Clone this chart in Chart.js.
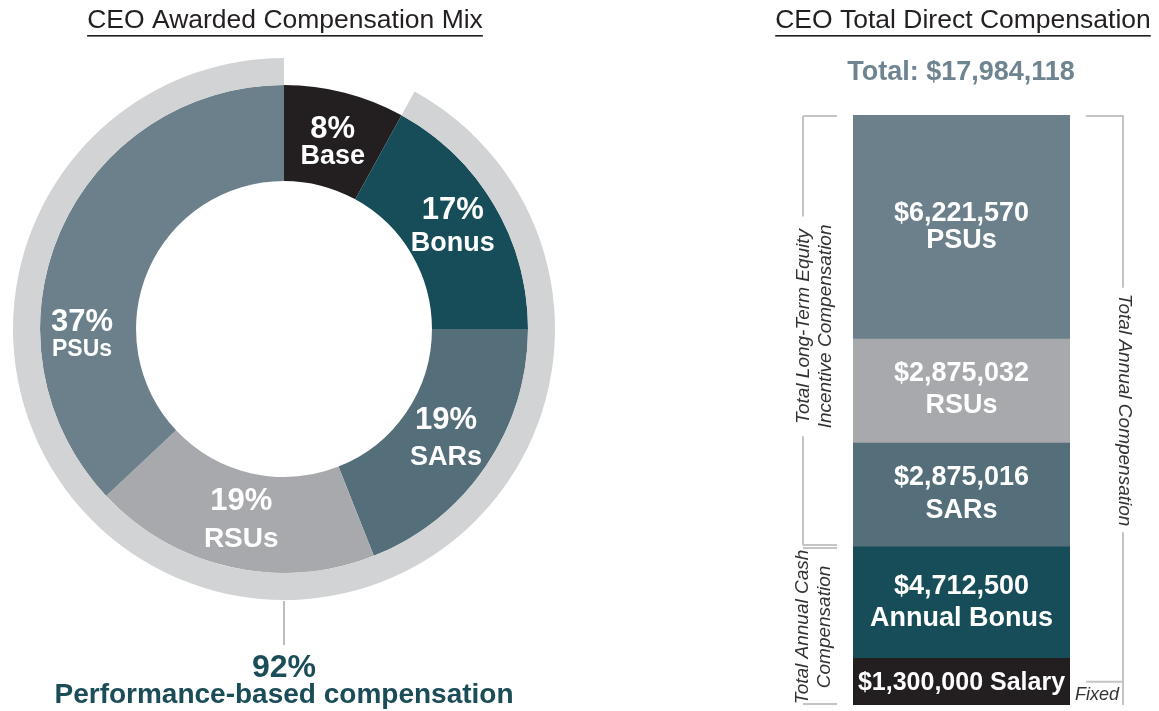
<!DOCTYPE html>
<html><head><meta charset="utf-8">
<script src="https://cdn.jsdelivr.net/npm/chart.js@4.4.1/dist/chart.umd.min.js"></script>
<style>
html,body{margin:0;padding:0;background:#fff;overflow:hidden;}
#wrap{position:relative;width:1159px;height:711px;}
#mix{position:absolute;left:0;top:0;}
#tdc{position:absolute;left:580px;top:0;}
</style></head><body>
<div id="wrap">
<canvas id="mix" width="580" height="711"></canvas>
<canvas id="tdc" width="579" height="711"></canvas>
</div>
<script>
// ---------- data ----------
const mixTitle = 'CEO Awarded Compensation Mix';
const mixCategories = ['Base', 'Bonus', 'SARs', 'RSUs', 'PSUs'];
const mixPercent = [8, 17, 19, 19, 37];
const performanceSplit = [8, 92];            // fixed (base) vs performance-based
const performanceLabels = ['92%', 'Performance-based compensation'];

const tdcTitle = 'CEO Total Direct Compensation';
const tdcTotalLabel = 'Total: $17,984,118';
const barCategories = ['Salary', 'Annual Bonus', 'SARs', 'RSUs', 'PSUs'];   // bottom to top
const barAmounts = [1300000, 4712500, 2875016, 2875032, 6221570];
const barShares = [7.9, 18.9, 17.6, 17.6, 38.0];   // block heights as drawn in the picture (% of column)
const bracketLabels = {
  lti: ['Total Long-Term Equity', 'Incentive Compensation'],
  cash: ['Total Annual Cash', 'Compensation'],
  annual: ['Total Annual Compensation'],
  fixed: 'Fixed'
};

// ---------- styles ----------
const FONT = '"Liberation Sans", Arial, Helvetica, sans-serif';
const mixColors = ['#231f20', '#164d58', '#546f7a', '#a8a9ad', '#6b808b'];
const ringGray = '#d1d3d4';
const barColors = ['#231f20', '#164d58', '#546f7a', '#a8a9ad', '#6b808b'];
const darkText = '#231f20';
const tealText = '#1b4d58';
const bracketColor = '#c4c4c4';

const fmtMoney = v => '$' + v.toLocaleString('en-US');

function drawTitle(ctx, text, cx) {
  ctx.save();
  ctx.font = '26.5px ' + FONT;
  ctx.fillStyle = darkText;
  ctx.textAlign = 'center';
  ctx.textBaseline = 'alphabetic';
  ctx.fillText(text, cx, 28);
  const w = ctx.measureText(text).width;
  ctx.fillRect(cx - w / 2, 35, w, 1.6);
  ctx.restore();
}

// ---------- doughnut ----------
const mixPlugin = {
  id: 'mixText',
  afterDraw(chart) {
    const ctx = chart.ctx;
    drawTitle(ctx, mixTitle, 285);
    const meta = chart.getDatasetMeta(1);
    const styles = [
      {pct: 31, name: 27, a: -1, b: 25},
      {pct: 31, name: 27, a: -10, b: 22},
      {pct: 31, name: 27, a: -10, b: 26},
      {pct: 31, name: 28, a: -10, b: 27},
      {pct: 31, name: 23, a: -3, b: 22, angle: 268.6, r: 202}
    ];
    ctx.save();
    ctx.fillStyle = '#ffffff';
    ctx.textAlign = 'center';
    ctx.textBaseline = 'alphabetic';
    meta.data.forEach((arc, i) => {
      const p = arc.getProps(['x', 'y', 'startAngle', 'endAngle', 'innerRadius', 'outerRadius'], true);
      const s = styles[i];
      let ang = (p.startAngle + p.endAngle) / 2;
      let r = (p.innerRadius + p.outerRadius) / 2;
      if (s.angle !== undefined) { ang = (s.angle - 90) * Math.PI / 180; r = s.r; }
      const x = p.x + r * Math.cos(ang);
      const y = p.y + r * Math.sin(ang);
      ctx.font = 'bold ' + s.pct + 'px ' + FONT;
      ctx.fillText(mixPercent[i] + '%', x, y + s.a);
      ctx.font = 'bold ' + s.name + 'px ' + FONT;
      ctx.fillText(mixCategories[i], x, y + s.b);
    });
    // leader line + performance label
    const outer = chart.getDatasetMeta(0).data[1];
    const op = outer.getProps(['x', 'y', 'outerRadius'], true);
    const yTop = op.y + op.outerRadius;
    ctx.strokeStyle = '#bdbdbd';
    ctx.lineWidth = 2;
    ctx.beginPath();
    ctx.moveTo(op.x, yTop + 1);
    ctx.lineTo(op.x, yTop + 45);
    ctx.stroke();
    ctx.fillStyle = tealText;
    ctx.font = 'bold 32px ' + FONT;
    ctx.fillText(performanceLabels[0], op.x, 677);
    ctx.font = 'bold 28px ' + FONT;
    ctx.fillText(performanceLabels[1], op.x, 703);
    ctx.restore();
  }
};

new Chart(document.getElementById('mix'), {
  type: 'doughnut',
  data: {
    labels: mixCategories,
    datasets: [
      {data: performanceSplit, backgroundColor: ['rgba(0,0,0,0)', ringGray], borderWidth: 0, weight: 27},
      {data: mixPercent, backgroundColor: mixColors, borderWidth: 0, weight: 96}
    ]
  },
  options: {
    responsive: false,
    animation: false,
    cutout: '54.6%',
    layout: {padding: {left: 13, right: 25, top: 58, bottom: 111}},
    plugins: {legend: {display: false}, tooltip: {enabled: false}},
    events: []
  },
  plugins: [mixPlugin]
});

// ---------- stacked column ----------
function vLineWithGap(ctx, x, y1, y2, g1, g2) {
  ctx.beginPath();
  if (g1 > y1) { ctx.moveTo(x, y1); ctx.lineTo(x, Math.min(g1, y2)); }
  if (g2 < y2) { ctx.moveTo(x, Math.max(g2, y1)); ctx.lineTo(x, y2); }
  ctx.stroke();
}
function rotatedText(ctx, lines, cx, cy, rot, size, spacing) {
  ctx.save();
  ctx.translate(cx, cy);
  ctx.rotate(rot);
  ctx.font = 'italic ' + size + 'px ' + FONT;
  ctx.fillStyle = '#333333';
  ctx.textAlign = 'center';
  ctx.textBaseline = 'middle';
  const n = lines.length;
  lines.forEach((t, i) => {
    ctx.fillText(t, 0, (i - (n - 1) / 2) * spacing);
  });
  ctx.restore();
}
function measureItalic(ctx, lines, size) {
  ctx.save();
  ctx.font = 'italic ' + size + 'px ' + FONT;
  const w = Math.max(...lines.map(t => ctx.measureText(t).width));
  ctx.restore();
  return w;
}

const tdcPlugin = {
  id: 'tdcText',
  afterDraw(chart) {
    const ctx = chart.ctx;
    drawTitle(ctx, tdcTitle, 383);
    ctx.save();
    ctx.fillStyle = '#6e8591';
    ctx.font = 'bold 27px ' + FONT;
    ctx.textAlign = 'center';
    ctx.textBaseline = 'alphabetic';
    ctx.fillText(tdcTotalLabel, 381, 80);

    // block labels
    const offs = [[8], [-9, 23], [-10, 23], [-10, 22], [-6, 21]];
    ctx.fillStyle = '#ffffff';
    chart.data.datasets.forEach((ds, i) => {
      const bar = chart.getDatasetMeta(i).data[0];
      const p = bar.getProps(['x', 'y', 'base'], true);
      const cy = (p.y + p.base) / 2;
      if (i === 0) {
        ctx.font = 'bold 25px ' + FONT;
        ctx.fillText(fmtMoney(barAmounts[i]) + ' ' + barCategories[i], p.x, cy + offs[i][0]);
      } else {
        ctx.font = 'bold 27px ' + FONT;
        ctx.fillText(fmtMoney(barAmounts[i]), p.x, cy + offs[i][0]);
        ctx.fillText(barCategories[i], p.x, cy + offs[i][1]);
      }
    });

    // brackets
    const ys = chart.scales.y;
    const total = barShares.reduce((a, b) => a + b, 0);
    const yTop = ys.getPixelForValue(total);
    const yCash = ys.getPixelForValue(barShares[0] + barShares[1]);
    const yBot = ys.getPixelForValue(0);
    const ySalMid = ys.getPixelForValue(barShares[0] / 2);
    ctx.strokeStyle = bracketColor;
    ctx.lineWidth = 2;
    const lx = 223, lt = 257, rx = 543, rt = 506;
    const ltiTop = yTop + 1, ltiBot = yCash - 2, cashTop = yCash + 1, cashBot = yBot - 1;
    // left: LTI + cash
    ctx.beginPath();
    ctx.moveTo(lt, ltiTop); ctx.lineTo(lx, ltiTop);
    ctx.moveTo(lt, ltiBot); ctx.lineTo(lx, ltiBot);
    ctx.moveTo(lt, cashTop); ctx.lineTo(lx, cashTop);
    ctx.moveTo(lt, cashBot); ctx.lineTo(lx, cashBot);
    ctx.stroke();
    const ltiMid = (ltiTop + ltiBot) / 2 - 4;
    const wLti = measureItalic(ctx, bracketLabels.lti, 19);
    vLineWithGap(ctx, lx, ltiTop, ltiBot, ltiMid - wLti / 2 - 8, ltiMid + wLti / 2 + 8);
    const cashMid = (cashTop + cashBot) / 2 + 1;
    const wCash = measureItalic(ctx, bracketLabels.cash, 19);
    vLineWithGap(ctx, lx, cashTop, cashBot, cashMid - wCash / 2 - 6, cashMid + wCash / 2 + 6);
    rotatedText(ctx, bracketLabels.lti, 235, ltiMid, -Math.PI / 2, 19, 22);
    rotatedText(ctx, bracketLabels.cash, 234, cashMid, -Math.PI / 2, 19, 22);
    // right: annual + fixed
    ctx.strokeStyle = bracketColor;
    ctx.lineWidth = 2;
    ctx.beginPath();
    ctx.moveTo(rt, ltiTop); ctx.lineTo(rx, ltiTop);
    ctx.moveTo(rt, ySalMid); ctx.lineTo(rx, ySalMid);
    ctx.stroke();
    const annMid = (yTop + yBot) / 2;
    const wAnn = measureItalic(ctx, bracketLabels.annual, 19);
    vLineWithGap(ctx, rx, ltiTop - 1, yBot, annMid - wAnn / 2 - 6, annMid + wAnn / 2 + 6);
    rotatedText(ctx, bracketLabels.annual, rx + 1, annMid, Math.PI / 2, 19, 22);
    ctx.font = 'italic 18px ' + FONT;
    ctx.fillStyle = '#333333';
    ctx.textAlign = 'center';
    ctx.textBaseline = 'alphabetic';
    ctx.fillText(bracketLabels.fixed, 517, 700);
    ctx.restore();
  }
};

new Chart(document.getElementById('tdc'), {
  type: 'bar',
  data: {
    labels: ['CEO'],
    datasets: barCategories.map((c, i) => ({
      label: c,
      data: [barShares[i]],
      backgroundColor: barColors[i],
      borderWidth: 0,
      barPercentage: 1,
      categoryPercentage: 1
    }))
  },
  options: {
    responsive: false,
    animation: false,
    layout: {padding: {left: 273, right: 89, top: 115, bottom: 6}},
    scales: {
      x: {stacked: true, display: false},
      y: {stacked: true, display: false, min: 0, max: barShares.reduce((a, b) => a + b, 0)}
    },
    plugins: {legend: {display: false}, tooltip: {enabled: false}},
    events: []
  },
  plugins: [tdcPlugin]
});
</script>
</body></html>
